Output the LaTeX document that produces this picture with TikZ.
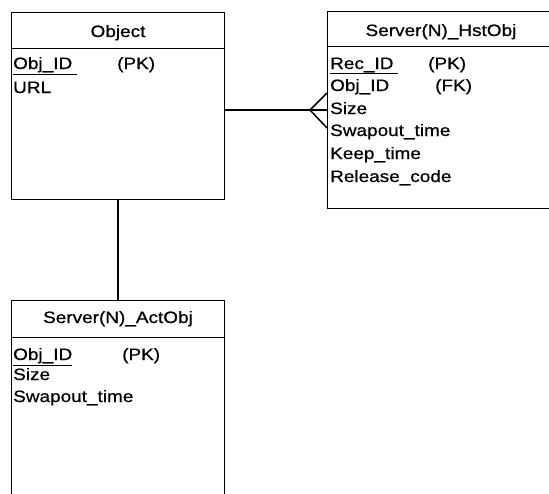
\documentclass[tikz,border=0pt]{standalone}
\usepackage{fontspec}
\setmainfont{Liberation Sans}[FakeStretch=1.15,FakeBold=0.6]
\usepackage{tikz}
\usetikzlibrary{positioning}
\tikzset{
  entity/.style={draw, line width=1.3pt, anchor=north west, inner sep=0pt},
  tabletitle/.style={anchor=base, inner sep=0pt},
  field/.style={anchor=base west, inner sep=0pt},
  link/.style={line width=1.8pt}
}
\begin{document}
\begin{tikzpicture}[x=1pt,y=-1pt,font=\fontsize{16.5}{20}\selectfont]
  \useasboundingbox (0,0) rectangle (549,493);
  \node[entity, minimum width=213pt, minimum height=187pt] (object) at (11,12) {};
  \node[entity, minimum width=232pt, minimum height=197pt] (hstobj) at (327,11) {};
  \node[entity, minimum width=213pt, minimum height=240pt] (actobj) at (11,300) {};

  \node[tabletitle] (objname) at (118,37) {Object};
  \node[tabletitle] (hstname) at (441,36) {Server(N)\_HstObj};
  \node[tabletitle] (actname) at (118,323) {Server(N)\_ActObj};
  \draw[line width=1pt] (object.west |- 0,48) -- (object.east |- 0,48);
  \draw[line width=1pt] (hstobj.west |- 0,46) -- (hstobj.east |- 0,46);
  \draw[line width=1pt] (actobj.west |- 0,337) -- (actobj.east |- 0,337);

  \node[field] (objkey) at (13,69) {\underline{Obj\_ID\hspace{5pt}}};
  \node[field] (objpk) at (117,69) {(PK)};
  \node[field] (objurl) at (13,93) {URL};

  \node[field] (hstkey) at (330,69) {\underline{Rec\_ID\hspace{5pt}}};
  \node[field] (hstpk) at (428,69) {(PK)};
  \node[field] (hstobjid) at (330,91) {Obj\_ID};
  \node[field] (hstfk) at (435,91) {(FK)};
  \node[field] (hstsize) at (330,114) {Size};
  \node[field] (hstswap) at (330,136) {Swapout\_time};
  \node[field] (hstkeep) at (330,159) {Keep\_time};
  \node[field] (hstrel) at (330,182) {Release\_code};

  \node[field] (actkey) at (13,360) {\underline{Obj\_ID}};
  \node[field] (actpk) at (122,360) {(PK)};
  \node[field] (actsize) at (13,380) {Size};
  \node[field] (actswap) at (13,402) {Swapout\_time};

  \coordinate (foot) at (310,110);
  \draw[link] (object.south) -- (actobj.north);
  \draw[link] (object.east |- foot) -- (hstobj.west |- foot);
  \draw[line width=1.5pt] (hstobj.west |- 0,93) -- (foot) -- (hstobj.west |- 0,128);
\end{tikzpicture}
\end{document}
